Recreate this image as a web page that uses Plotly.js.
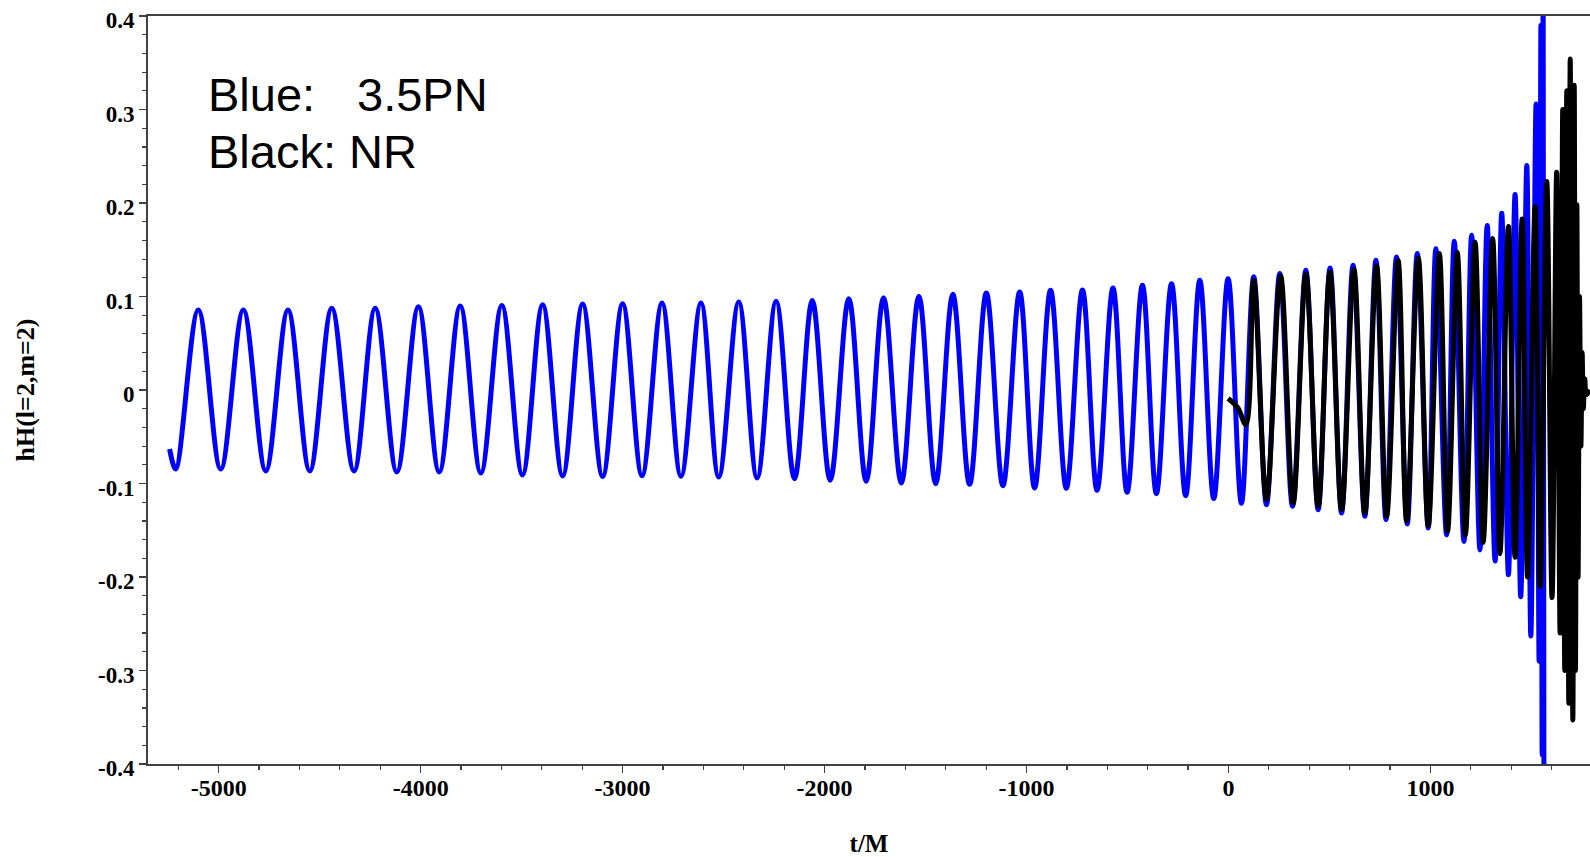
<!DOCTYPE html>
<html>
<head>
<meta charset="utf-8">
<script src="https://cdn.plot.ly/plotly-3.0.1.min.js"></script>
<style>
  html, body { margin: 0; padding: 0; background: #fff; }
  #chart { width: 1590px; height: 857px; }
</style>
</head>
<body>
<div id="chart"></div>
<script>
// ---- Data (extrema of each waveform) ----
// 3.5PN waveform (blue): times t/M and values at successive turning points
const blueT = [-5243, -5213, -5101, -4990, -4878, -4767, -4657, -4549, -4440, -4330,
  -4225, -4118, -4011, -3908, -3804, -3702, -3598, -3496, -3396, -3297,
  -3198, -3099, -3000, -2904, -2805, -2711, -2612, -2524, -2425, -2334,
  -2240, -2149, -2061, -1972, -1880, -1794, -1708, -1620, -1533, -1450,
  -1365, -1282, -1199, -1117, -1034, -960, -881, -803, -723, -651,
  -572, -502, -426, -357, -282, -212, -142, -73, -2, 64,
  125, 188, 254, 317, 383, 444, 503, 560, 617, 675,
  730, 780, 832, 885, 935, 989, 1027, 1080, 1118, 1166,
  1204, 1245, 1281, 1320, 1353, 1386, 1419, 1447, 1477, 1497,
  1523, 1538, 1547, 1553, 1558, 1562];
const blueH = [-0.063, -0.0845, 0.0856, -0.0845, 0.0856, -0.0866, 0.0856, -0.0866, 0.0874, -0.0866,
  0.0874, -0.0877, 0.089, -0.0877, 0.0898, -0.0888, 0.0905, -0.0909, 0.0912, -0.092,
  0.092, -0.0925, 0.0923, -0.0917, 0.093, -0.0923, 0.093, -0.093, 0.094, -0.0941,
  0.095, -0.0949, 0.0958, -0.0966, 0.0976, -0.0976, 0.0987, -0.0995, 0.1002, -0.1002,
  0.1023, -0.1008, 0.1037, -0.1023, 0.1048, -0.1048, 0.1066, -0.105, 0.107, -0.1073,
  0.109, -0.1094, 0.112, -0.1109, 0.1137, -0.113, 0.1173, -0.116, 0.119, -0.121,
  0.121, -0.1227, 0.1245, -0.1244, 0.128, -0.128, 0.1305, -0.1316, 0.1334, -0.1351,
  0.1387, -0.1387, 0.1422, -0.1433, 0.146, -0.1476, 0.151, -0.155, 0.159, -0.162,
  0.1655, -0.171, 0.176, -0.183, 0.189, -0.1975, 0.209, -0.221, 0.24, -0.263,
  0.306, -0.29, 0.39, -0.39, 0.45, -0.45];

// Numerical relativity waveform (black)
const blackT = [-2, 46, 86, 125, 188, 258, 320, 383, 444, 502,
  560, 621, 675, 733, 783, 840, 882, 940, 989, 1044,
  1085, 1133, 1173, 1221, 1261, 1308, 1344, 1386, 1419, 1454,
  1481, 1518, 1543, 1576, 1602, 1625, 1642, 1655, 1665, 1675,
  1685, 1692, 1705, 1712, 1718, 1725, 1731, 1738, 1745, 1751,
  1757, 1764, 1772, 1790];
const blackH = [-0.009, -0.019, -0.037, 0.117, -0.117, 0.122, -0.121, 0.124, -0.124, 0.126,
  -0.128, 0.129, -0.1316, 0.133, -0.135, 0.1387, -0.14, 0.141, -0.145, 0.146,
  -0.151, 0.147, -0.155, 0.158, -0.163, 0.162, -0.175, 0.175, -0.179, 0.183,
  -0.2, 0.196, -0.21, 0.223, -0.222, 0.233, -0.26, 0.30, -0.30, 0.32,
  -0.335, 0.354, -0.353, 0.326, -0.30, 0.198, -0.2, 0.1, -0.06, 0.04,
  -0.02, 0.012, -0.005, 0.0];

// Tick labels
const xTickVals = [-5000, -4000, -3000, -2000, -1000, 0, 1000];
const xTickText = ['-5000', '-4000', '-3000', '-2000', '-1000', '0', '1000'];
const yTickVals = [-0.4, -0.3, -0.2, -0.1, 0, 0.1, 0.2, 0.3, 0.4];
const yTickText = ['-0.4', '-0.3', '-0.2', '-0.1', '0', '0.1', '0.2', '0.3', '0.4'];

const xTitle = 't/M';
const yTitle = 'hH(l=2,m=2)';
const legendLines = ['Blue:', '3.5PN', 'Black: NR'];

// ---- Plot ----
const serif = 'Liberation Serif, Times New Roman, serif';
const sans = 'Liberation Sans, Arial, sans-serif';
const axisColor = '#404040';

const traces = [
  {
    x: blueT, y: blueH, type: 'scatter', mode: 'lines',
    line: { color: '#0000ff', width: 5, shape: 'spline', smoothing: 1 },
    hoverinfo: 'skip'
  },
  {
    x: blackT, y: blackH, type: 'scatter', mode: 'lines',
    line: { color: '#000000', width: 5, shape: 'spline', smoothing: 1 },
    hoverinfo: 'skip'
  }
];

const layout = {
  width: 1590, height: 857,
  margin: { l: 148, r: 0, t: 16, b: 93 },
  paper_bgcolor: '#ffffff', plot_bgcolor: '#ffffff',
  showlegend: false,
  xaxis: {
    range: [-5350, 1790],
    tickmode: 'array', tickvals: xTickVals, ticktext: xTickText,
    ticks: 'outside', ticklen: 7, tickwidth: 1.5, tickcolor: axisColor,
    ticklabelstandoff: -6,
    minor: { dtick: 200, ticks: 'outside', ticklen: 4, tickwidth: 1.2, tickcolor: axisColor, showgrid: false },
    showline: true, linecolor: axisColor, linewidth: 2, mirror: true,
    showgrid: false, zeroline: false,
    tickfont: { family: serif, size: 24, color: '#000', weight: 'bold' },
    title: { text: xTitle, standoff: 36, font: { family: serif, size: 25, color: '#000', weight: 'bold' } },
    automargin: false
  },
  yaxis: {
    range: [-0.4, 0.4],
    tickmode: 'array', tickvals: yTickVals, ticktext: yTickText,
    ticks: 'outside', ticklen: 7, tickwidth: 1.5, tickcolor: axisColor,
    ticklabelshift: 4,
    minor: { dtick: 0.02, ticks: 'outside', ticklen: 4, tickwidth: 1.2, tickcolor: axisColor, showgrid: false },
    showline: true, linecolor: axisColor, linewidth: 2, mirror: false,
    showgrid: false, zeroline: false,
    tickfont: { family: serif, size: 23, color: '#000', weight: 'bold' },
    title: { text: yTitle, standoff: 56, font: { family: serif, size: 26, color: '#000', weight: 'bold' } },
    automargin: false
  },
  annotations: [
    { xref: 'paper', yref: 'paper', x: 0.0405, y: 0.8957, xanchor: 'left', yanchor: 'middle',
      text: legendLines[0], showarrow: false, font: { family: sans, size: 47, color: '#000' } },
    { xref: 'paper', yref: 'paper', x: 0.1435, y: 0.8957, xanchor: 'left', yanchor: 'middle',
      text: legendLines[1], showarrow: false, font: { family: sans, size: 47, color: '#000' } },
    { xref: 'paper', yref: 'paper', x: 0.0405, y: 0.8195, xanchor: 'left', yanchor: 'middle',
      text: legendLines[2], showarrow: false, font: { family: sans, size: 47, color: '#000' } }
  ]
};

Plotly.newPlot('chart', traces, layout, { displayModeBar: false, staticPlot: true });
</script>
</body>
</html>
